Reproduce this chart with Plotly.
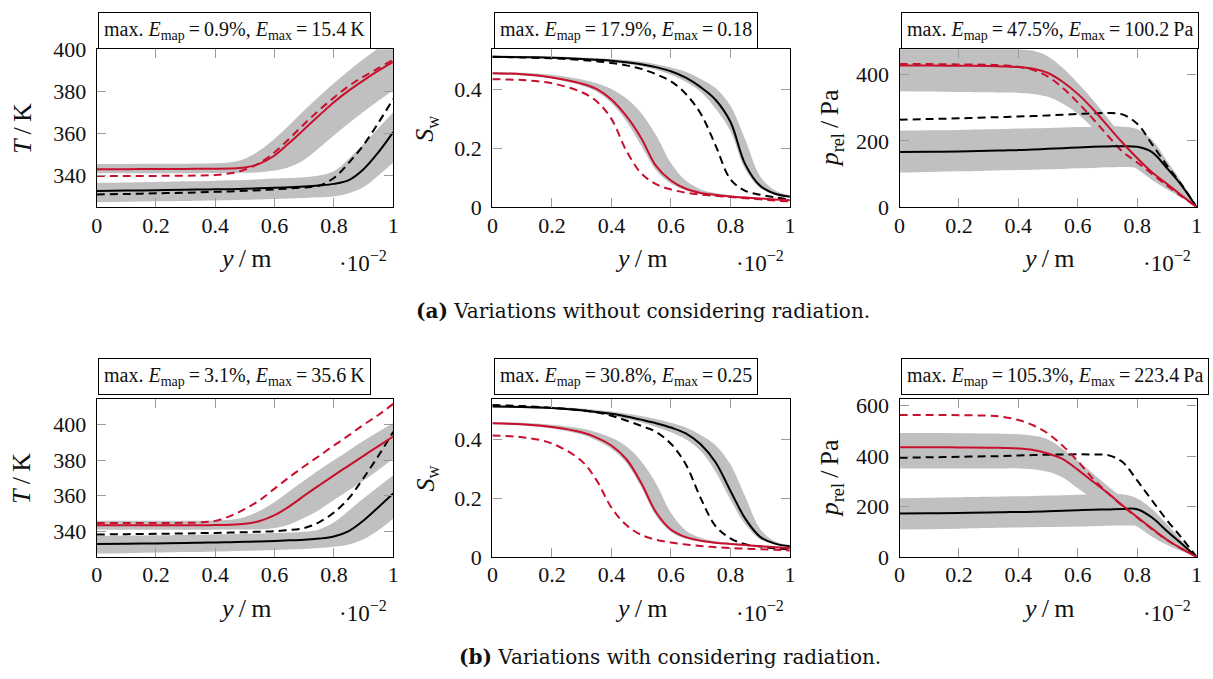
import plotly.graph_objects as go

W, H = 1213, 679

# ---------------- data ----------------
y_pos = [0, 0.1, 0.2, 0.3, 0.35, 0.4, 0.45, 0.5, 0.55, 0.6, 0.65, 0.7, 0.75, 0.8, 0.85, 0.9, 0.95, 1.0]

# (a) without radiation: temperature T/K
a_T_red_solid = [343.0, 343.0, 343.1, 343.1, 343.15, 343.2, 343.3, 343.8, 345.6, 349.5, 355.5, 362.0, 368.5, 374.8, 380.3, 385.2, 389.8, 394.0]
a_T_red_dash  = [339.8, 339.8, 339.8, 339.9, 340.0, 340.2, 341.0, 342.8, 346.0, 351.0, 357.5, 364.5, 371.0, 377.0, 382.5, 387.0, 391.0, 395.0]
a_T_red_up    = [345.5, 345.5, 345.6, 345.6, 345.7, 345.8, 346.3, 348.0, 352.0, 357.5, 364.0, 371.0, 377.5, 383.8, 389.8, 395.3, 400.5, 405.0]
a_T_red_lo    = [341.0, 341.0, 341.1, 341.1, 341.1, 341.2, 341.2, 341.3, 341.5, 342.3, 344.0, 347.5, 353.0, 359.0, 364.8, 370.3, 375.5, 380.5]
a_T_blk_solid = [332.6, 332.8, 333.0, 333.2, 333.3, 333.4, 333.5, 333.7, 333.9, 334.1, 334.4, 334.7, 335.2, 336.0, 337.8, 343.0, 351.0, 360.6]
a_T_blk_dash  = [331.0, 331.2, 331.5, 331.8, 332.0, 332.2, 332.4, 332.7, 333.0, 333.4, 333.8, 334.3, 335.2, 338.8, 346.0, 354.5, 365.0, 376.4]
a_T_blk_up    = [336.5, 336.7, 336.9, 337.2, 337.3, 337.5, 337.7, 337.9, 338.2, 338.5, 338.8, 339.2, 340.0, 342.0, 348.0, 355.0, 362.5, 370.0]
a_T_blk_lo    = [327.3, 327.5, 327.7, 327.9, 328.0, 328.1, 328.2, 328.4, 328.6, 328.8, 329.0, 329.3, 329.6, 330.0, 331.5, 334.5, 340.0, 346.0]

# (a) saturation S_w
a_S_red_solid = [0.455, 0.452, 0.441, 0.420, 0.402, 0.366, 0.310, 0.235, 0.140, 0.090, 0.062, 0.048, 0.041, 0.036, 0.032, 0.029, 0.026, 0.023]
a_S_red_dash  = [0.435, 0.432, 0.421, 0.391, 0.360, 0.300, 0.192, 0.115, 0.078, 0.060, 0.049, 0.042, 0.038, 0.034, 0.030, 0.026, 0.022, 0.019]
a_S_red_up    = [0.459, 0.457, 0.450, 0.434, 0.421, 0.402, 0.370, 0.320, 0.245, 0.150, 0.090, 0.060, 0.048, 0.040, 0.035, 0.031, 0.028, 0.026]
a_S_red_lo    = [0.451, 0.448, 0.437, 0.413, 0.393, 0.354, 0.292, 0.210, 0.125, 0.080, 0.057, 0.045, 0.039, 0.034, 0.031, 0.028, 0.025, 0.022]
a_S_blk_solid = [0.511, 0.510, 0.508, 0.504, 0.501, 0.498, 0.493, 0.486, 0.476, 0.462, 0.440, 0.408, 0.365, 0.290, 0.145, 0.072, 0.045, 0.035]
a_S_blk_dash  = [0.511, 0.509, 0.506, 0.500, 0.496, 0.490, 0.482, 0.470, 0.452, 0.428, 0.385, 0.318, 0.210, 0.095, 0.055, 0.042, 0.033, 0.025]
a_S_blk_up    = [0.515, 0.514, 0.512, 0.509, 0.507, 0.504, 0.500, 0.494, 0.486, 0.475, 0.460, 0.436, 0.405, 0.345, 0.230, 0.105, 0.056, 0.040]
a_S_blk_lo    = [0.509, 0.508, 0.505, 0.500, 0.497, 0.493, 0.487, 0.479, 0.467, 0.450, 0.426, 0.392, 0.335, 0.258, 0.128, 0.065, 0.042, 0.033]

# (a) relative pressure p_rel/Pa
a_p_red_solid = [428, 428, 427, 426, 425, 423, 418, 405, 378, 342, 297, 246, 195, 148, 105, 70, 35, 0]
a_p_red_dash  = [432, 432, 431, 430, 428, 424, 414, 394, 360, 316, 268, 217, 168, 135, 100, 65, 32, 0]
a_p_red_up    = [482, 482, 481, 480, 479, 477, 472, 455, 420, 375, 325, 270, 215, 165, 118, 78, 38, 0]
a_p_red_lo    = [350, 349, 348, 347, 346, 345, 342, 333, 312, 282, 240, 198, 152, 115, 82, 54, 28, 0]
a_p_blk_solid = [166, 167, 168, 170, 171, 172, 174, 176, 178, 180, 182, 183, 184, 182, 166, 118, 65, 0]
a_p_blk_dash  = [264, 266, 268, 271, 272, 274, 275, 277, 279, 281, 283, 284, 280, 252, 190, 126, 67, 0]
a_p_blk_up    = [231, 232, 233, 235, 236, 237, 238, 239, 240, 242, 243, 244, 243, 236, 203, 140, 75, 0]
a_p_blk_lo    = [104, 106, 108, 110, 111, 112, 113, 114, 115, 117, 118, 120, 121, 118, 96, 64, 32, 0]

# (b) with radiation: temperature
b_T_red_solid = [343.3, 343.3, 343.3, 343.3, 343.3, 343.4, 343.6, 344.2, 345.7, 349.0, 354.0, 360.0, 365.8, 371.5, 377.0, 382.5, 388.0, 393.4]
b_T_red_dash  = [344.6, 344.6, 344.6, 344.7, 344.9, 345.8, 348.5, 352.5, 357.5, 364.0, 370.5, 376.6, 382.4, 388.3, 394.0, 400.0, 405.5, 411.8]
b_T_red_up    = [345.8, 345.8, 345.8, 345.8, 345.9, 346.0, 346.5, 348.0, 351.5, 356.5, 362.5, 368.5, 374.5, 380.0, 385.5, 391.0, 396.0, 401.0]
b_T_red_lo    = [340.8, 340.8, 340.8, 340.8, 340.8, 340.8, 340.9, 340.9, 341.0, 341.8, 343.8, 347.5, 352.0, 357.5, 363.0, 368.5, 374.5, 381.0]
b_T_blk_solid = [332.7, 332.9, 333.1, 333.3, 333.5, 333.6, 333.8, 334.0, 334.2, 334.5, 334.8, 335.2, 335.8, 337.0, 340.0, 346.0, 353.5, 361.2]
b_T_blk_dash  = [338.1, 338.3, 338.5, 338.7, 338.9, 339.0, 339.2, 339.4, 339.7, 340.0, 340.6, 341.8, 345.0, 350.5, 358.5, 370.0, 382.5, 396.0]
b_T_blk_up    = [337.3, 337.5, 337.7, 337.9, 338.0, 338.2, 338.3, 338.5, 338.7, 339.0, 339.3, 339.7, 341.0, 345.0, 351.5, 358.5, 365.0, 371.5]
b_T_blk_lo    = [327.4, 327.6, 327.9, 328.2, 328.3, 328.5, 328.7, 328.9, 329.1, 329.4, 329.7, 330.0, 330.5, 331.2, 332.5, 335.5, 340.5, 347.0]

# (b) saturation
b_S_red_solid = [0.455, 0.451, 0.442, 0.424, 0.406, 0.379, 0.333, 0.252, 0.152, 0.093, 0.067, 0.055, 0.048, 0.044, 0.040, 0.036, 0.033, 0.030]
b_S_red_dash  = [0.413, 0.407, 0.386, 0.326, 0.261, 0.168, 0.108, 0.075, 0.058, 0.049, 0.042, 0.037, 0.033, 0.030, 0.028, 0.026, 0.024, 0.022]
b_S_red_up    = [0.459, 0.456, 0.450, 0.437, 0.424, 0.405, 0.376, 0.325, 0.250, 0.150, 0.090, 0.065, 0.053, 0.047, 0.043, 0.039, 0.036, 0.033]
b_S_red_lo    = [0.451, 0.447, 0.437, 0.416, 0.396, 0.368, 0.320, 0.238, 0.140, 0.085, 0.062, 0.051, 0.045, 0.041, 0.037, 0.034, 0.031, 0.028]
b_S_blk_solid = [0.512, 0.510, 0.507, 0.499, 0.493, 0.487, 0.478, 0.467, 0.455, 0.440, 0.420, 0.383, 0.322, 0.225, 0.130, 0.068, 0.045, 0.036]
b_S_blk_dash  = [0.517, 0.513, 0.507, 0.499, 0.492, 0.480, 0.464, 0.446, 0.425, 0.385, 0.315, 0.200, 0.105, 0.063, 0.043, 0.035, 0.029, 0.025]
b_S_blk_up    = [0.516, 0.514, 0.511, 0.505, 0.500, 0.495, 0.488, 0.479, 0.469, 0.456, 0.440, 0.415, 0.380, 0.315, 0.205, 0.095, 0.052, 0.040]
b_S_blk_lo    = [0.509, 0.507, 0.503, 0.494, 0.488, 0.480, 0.470, 0.457, 0.442, 0.424, 0.400, 0.360, 0.290, 0.195, 0.110, 0.060, 0.042, 0.034]

# (b) relative pressure
b_p_red_solid = [435, 435, 434, 433, 432, 430, 424, 410, 388, 346, 300, 254, 205, 158, 112, 68, 33, 0]
b_p_red_dash  = [563, 563, 562, 560, 555, 543, 522, 489, 440, 380, 312, 254, 203, 156, 110, 67, 32, 0]
b_p_red_up    = [491, 491, 490, 489, 488, 486, 480, 466, 428, 382, 332, 282, 235, 187, 138, 90, 45, 0]
b_p_red_lo    = [351, 351, 351, 351, 351, 351, 348, 338, 315, 272, 230, 186, 150, 120, 80, 48, 22, 0]
b_p_blk_solid = [172, 173, 174, 176, 177, 178, 179, 181, 183, 185, 187, 188, 190, 189, 156, 103, 52, 0]
b_p_blk_dash  = [393, 395, 397, 399, 400, 402, 404, 405, 406, 407, 406, 404, 377, 303, 224, 146, 75, 0]
b_p_blk_up    = [233, 234, 236, 238, 239, 240, 241, 243, 244, 246, 247, 248, 248, 232, 190, 130, 65, 0]
b_p_blk_lo    = [109, 110, 112, 114, 115, 116, 117, 118, 119, 120, 121, 123, 124, 122, 100, 62, 30, 0]

box_texts = [
    "max. <i>E</i><sub>map</sub>\u2009=\u20090.9%, <i>E</i><sub>max</sub>\u2009=\u200915.4\u2009K",
    "max. <i>E</i><sub>map</sub>\u2009=\u200917.9%, <i>E</i><sub>max</sub>\u2009=\u20090.18",
    "max. <i>E</i><sub>map</sub>\u2009=\u200947.5%, <i>E</i><sub>max</sub>\u2009=\u2009100.2\u2009Pa",
    "max. <i>E</i><sub>map</sub>\u2009=\u20093.1%, <i>E</i><sub>max</sub>\u2009=\u200935.6\u2009K",
    "max. <i>E</i><sub>map</sub>\u2009=\u200930.8%, <i>E</i><sub>max</sub>\u2009=\u20090.25",
    "max. <i>E</i><sub>map</sub>\u2009=\u2009105.3%, <i>E</i><sub>max</sub>\u2009=\u2009223.4\u2009Pa",
]
y_titles = ["<i>T</i>\u2009/\u2009K", "<i>S</i><sub>w</sub>", "<i>p</i><sub>rel</sub>\u2009/\u2009Pa"]
x_title = "<i>y</i>\u2009/\u2009m"
x_scale_label = "\u00b710<sup>\u22122</sup>"
captions = ["<b>(a)</b> Variations without considering radiation.",
            "<b>(b)</b> Variations with considering radiation."]

panels = [
    dict(rs=a_T_red_solid, rd=a_T_red_dash, ru=a_T_red_up, rl=a_T_red_lo,
         bs=a_T_blk_solid, bd=a_T_blk_dash, bu=a_T_blk_up, bl=a_T_blk_lo,
         yr=[325, 400], yt=[340, 360, 380, 400]),
    dict(rs=a_S_red_solid, rd=a_S_red_dash, ru=a_S_red_up, rl=a_S_red_lo,
         bs=a_S_blk_solid, bd=a_S_blk_dash, bu=a_S_blk_up, bl=a_S_blk_lo,
         yr=[0, 0.537], yt=[0, 0.2, 0.4]),
    dict(rs=a_p_red_solid, rd=a_p_red_dash, ru=a_p_red_up, rl=a_p_red_lo,
         bs=a_p_blk_solid, bd=a_p_blk_dash, bu=a_p_blk_up, bl=a_p_blk_lo,
         yr=[0, 477], yt=[0, 200, 400]),
    dict(rs=b_T_red_solid, rd=b_T_red_dash, ru=b_T_red_up, rl=b_T_red_lo,
         bs=b_T_blk_solid, bd=b_T_blk_dash, bu=b_T_blk_up, bl=b_T_blk_lo,
         yr=[325.5, 414.5], yt=[340, 360, 380, 400]),
    dict(rs=b_S_red_solid, rd=b_S_red_dash, ru=b_S_red_up, rl=b_S_red_lo,
         bs=b_S_blk_solid, bd=b_S_blk_dash, bu=b_S_blk_up, bl=b_S_blk_lo,
         yr=[0, 0.537], yt=[0, 0.2, 0.4]),
    dict(rs=b_p_red_solid, rd=b_p_red_dash, ru=b_p_red_up, rl=b_p_red_lo,
         bs=b_p_blk_solid, bd=b_p_blk_dash, bu=b_p_blk_up, bl=b_p_blk_lo,
         yr=[0, 626], yt=[0, 200, 400, 600]),
]

# ---------------- layout geometry ----------------
# target pixel positions (as seen in the photographed page); tx/ty map them to figure pixels,
# compensating the small inset observed between the figure and the photograph.
def tx(p):
    return (p - 4) / 0.9934

def ty(p):
    return (p - 10) / 0.9705

col_px = [(95, 392.5), (492, 790.5), (900.5, 1198.5)]
row_px = [(47.5, 206.5), (400, 559)]
box_top = [0.5, ty(359)]
ytitle_x = [20, 426, 832]
RED = "#c8102e"
BAND = "#c0c0c0"
SERIF = "Liberation Serif"
CAPFONT = "DejaVu Serif"

def px2x(p):
    return p / W

def px2y(p):
    return 1 - p / H

fig = go.Figure()
annotations = []
layout_axes = {}
sm = 1.0

for i, P in enumerate(panels):
    r, c = divmod(i, 3)
    n = i + 1
    xa = "x" if n == 1 else f"x{n}"
    ya = "y" if n == 1 else f"y{n}"
    # uncertainty bands
    for lo, up in ((P["rl"], P["ru"]), (P["bl"], P["bu"])):
        fig.add_trace(go.Scatter(x=y_pos, y=lo, mode="lines", line=dict(width=0, shape="spline", smoothing=sm),
                                 xaxis=xa, yaxis=ya, showlegend=False, hoverinfo="skip"))
        fig.add_trace(go.Scatter(x=y_pos, y=up, mode="lines", line=dict(width=0, shape="spline", smoothing=sm),
                                 fill="tonexty", fillcolor=BAND,
                                 xaxis=xa, yaxis=ya, showlegend=False, hoverinfo="skip"))
    # lines
    for key, col, dash in (("bd", "black", "8px,5px"), ("rd", RED, "8px,5px"),
                           ("bs", "black", "solid"), ("rs", RED, "solid")):
        fig.add_trace(go.Scatter(x=y_pos, y=P[key], mode="lines",
                                 line=dict(color=col, width=2, dash=dash, shape="spline", smoothing=sm),
                                 xaxis=xa, yaxis=ya, showlegend=False))

    x0, x1 = col_px[c]
    y0, y1 = row_px[r]
    axcommon = dict(showgrid=False, zeroline=False, showline=True, linecolor="black", linewidth=1.3,
                    mirror="allticks", ticks="inside", ticklen=9, tickcolor="#9a9a9a", tickwidth=1.3,
                    tickfont=dict(family=SERIF, size=22, color="#111"))
    layout_axes["xaxis" if n == 1 else f"xaxis{n}"] = dict(
        domain=[px2x(tx(x0)), px2x(tx(x1))], range=[0, 1], tickvals=[0, 0.2, 0.4, 0.6, 0.8, 1],
        ticktext=["0", "0.2", "0.4", "0.6", "0.8", "1"], anchor=ya, ticklabelstandoff=-2, **axcommon)
    layout_axes["yaxis" if n == 1 else f"yaxis{n}"] = dict(
        domain=[px2y(ty(y1)), px2y(ty(y0))], range=P["yr"], tickvals=P["yt"],
        ticktext=[("%g" % v) for v in P["yt"]], anchor=xa, ticklabelstandoff=5, **axcommon)

    # title box
    annotations.append(dict(x=px2x(tx(x0 + 1.5)), y=px2y(box_top[r]), xref="paper", yref="paper",
                            xanchor="left", yanchor="top", text=box_texts[i], showarrow=False,
                            font=dict(family=SERIF, size=20, color="#111"),
                            bordercolor="black", borderwidth=1, borderpad=5, bgcolor="white"))
    # y title
    annotations.append(dict(x=px2x(tx(ytitle_x[c])), y=px2y(ty((y0 + y1) / 2)), xref="paper", yref="paper",
                            xanchor="center", yanchor="middle", text=y_titles[c], textangle=-90,
                            showarrow=False, font=dict(family=SERIF, size=26, color="#111")))
    # x title and scale factor
    annotations.append(dict(x=px2x(tx((x0 + x1) / 2)), y=px2y(ty(y1 + 52)), xref="paper", yref="paper",
                            xanchor="center", yanchor="middle", text=x_title,
                            showarrow=False, font=dict(family=SERIF, size=26, color="#111")))
    annotations.append(dict(x=px2x(tx(x1 - 4)), y=px2y(ty(y1 + 55)), xref="paper", yref="paper",
                            xanchor="right", yanchor="middle", text=x_scale_label,
                            showarrow=False, font=dict(family=SERIF, size=23, color="#111")))

annotations.append(dict(x=px2x(tx(643)), y=px2y(ty(311)), xref="paper", yref="paper", xanchor="center",
                        yanchor="middle", text=captions[0], showarrow=False,
                        font=dict(family=CAPFONT, size=20, color="#111")))
annotations.append(dict(x=px2x(tx(670)), y=px2y(min(ty(662), 669.5)), xref="paper", yref="paper",
                        xanchor="center", yanchor="middle", text=captions[1], showarrow=False,
                        font=dict(family=CAPFONT, size=20, color="#111")))

fig.update_layout(width=W, height=H, margin=dict(l=0, r=0, t=0, b=0), autosize=False,
                  paper_bgcolor="white", plot_bgcolor="white", showlegend=False,
                  annotations=annotations, **layout_axes)

fig.write_html("out.html")
